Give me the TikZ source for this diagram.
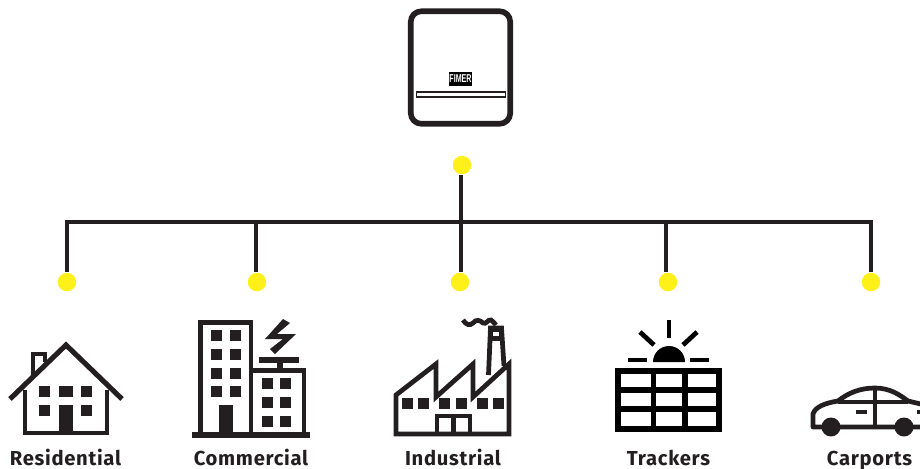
\documentclass[tikz,border=0pt]{standalone}
\usepackage{graphicx}
\usepackage{fontspec}
\setmainfont{Liberation Sans}
\newfontfamily\labelfont[LetterSpace=3.5]{Fira Sans}
\usetikzlibrary{positioning}
\definecolor{FimerInk}{HTML}{231F20}
\definecolor{FimerYellow}{HTML}{FFF01A}

\begin{document}
\begin{tikzpicture}[
            x=0.02cm, y=-0.02cm,
            dot/.style={circle, fill=FimerYellow, inner sep=0pt, minimum size=0.37cm},
            wire/.style={draw=FimerInk, line width=1.8pt},
            icon/.style={draw=FimerInk, line width=2.7pt, miter limit=10},
            thin icon/.style={icon, line width=1.9pt},
            caption/.style={font=\labelfont\bfseries\fontsize{11.5}{13}\selectfont, text=FimerInk, anchor=base, inner sep=0pt}
        ]
            \useasboundingbox (0,0) rectangle (920,468);
            \clip (0,0) rectangle (920,468);

            % inverter
            \node[draw=FimerInk, line width=3.2pt, rounded corners=6pt, minimum width=1.99cm, minimum height=2.25cm, inner sep=0pt] (inverter) at (460.5,67.5) {};
            \node[fill=black, text=white, minimum width=0.46cm, minimum height=0.28cm, inner sep=0pt, font=\bfseries\fontsize{6.5}{7}\selectfont] (logo) at (460.5,79) {\scalebox{.62}[1]{FIMER}};
            \node[draw=FimerInk, fill=white, line width=1pt, minimum width=1.78cm, minimum height=0.11cm, inner sep=0pt] (slot) at (461,94.5) {};

            % connectors
            \node[dot] (dotTop) at (462,165) {};
            \node[dot] (dotRes) at (67,282) {};
            \node[dot] (dotCom) at (257,282) {};
            \node[dot] (dotInd) at (460,282) {};
            \node[dot] (dotTra) at (668,282) {};
            \node[dot] (dotCar) at (871,282) {};
            \coordinate (joinRes) at (67,222);
            \coordinate (joinCom) at (256,222);
            \coordinate (joinInd) at (461,222);
            \coordinate (joinTra) at (666,222);
            \coordinate (joinCar) at (871,222);

            \draw[wire] (joinInd |- dotTop.south) -- (joinInd);
            \draw[wire, line cap=rect] (joinRes) -- (joinCar);
            \foreach \name in {Res,Com,Ind,Tra,Car}
                \draw[wire] (join\name) -- (join\name |- dot\name.north);

            % house
            \draw[thin icon, fill=white] (33,375) -- (33,354) -- (45,354) -- (45,362);
            \draw[icon] (25,390) -- (25,433) -- (107,433) -- (107,390);
            \draw[icon, line width=2.9pt] (10,399) -- (66,345) -- (122,399);
            \foreach \x/\y/\w in {39/386/11, 59/386/14, 81/386/11, 39/405/11, 81/405/11}
                \fill[FimerInk] (\x,\y) rectangle ++(\w,11);
            \fill[FimerInk] (59,405) rectangle (73,433);

            % commercial
            \draw[icon] (200.5,434) -- (200.5,322.5) -- (251,322.5) -- (251,434);
            \draw[icon] (251,370.5) -- (304,370.5) -- (304,434);
            \fill[FimerInk] (192,432) rectangle (310,438);
            \foreach \y in {330,349,368,386}
                \foreach \x in {211,230}
                    \fill[FimerInk] (\x,\y) rectangle ++(11,11);
            \fill[FimerInk] (219,405) rectangle (233,433);
            \foreach \y in {378,397,416}
                \foreach \x in {262,280}
                    \fill[FimerInk] (\x,\y) rectangle ++(11,11);
            \fill[FimerInk] (259,357) rectangle (299,363);
            \fill[FimerInk] (277,363) rectangle (283,370);
            \fill[FimerInk] (283,319) -- (290,323) -- (277,334) -- (296,334) -- (275,354) -- (270,349) -- (283,339) -- (265,339) -- cycle;

            % factory
            \draw[icon] (488.5,375) -- (490.5,328) -- (501.5,328) -- (504,366);
            \fill[FimerInk] (489,326) rectangle (503,341);
            \fill[white] (493,332) rectangle (499,336);
            \draw[icon] (463,320) .. controls (466,325) and (470,326) .. (473,323) .. controls (476,319) and (480,320) .. (483,323) .. controls (486,325) and (488,319) .. (491,320) .. controls (493,321) and (494,323) .. (496,325);
            \draw[icon] (396,434) -- (396,395) -- (436,364) -- (436,397) -- (473,364) -- (473,397) -- (509,364) -- (509,434) -- cycle;
            \foreach \x in {402,418,439,456,477,493}
                \fill[FimerInk] (\x,398) rectangle ++(11,11);
            \draw[thin icon, line width=2.3pt] (437,434) -- (437,416) -- (470,416) -- (470,434);
            \draw[thin icon, line width=2.3pt] (453.5,416) -- (453.5,434);

            % tracker
            \draw[icon, draw=black, line width=3pt] (618,371) rectangle (719,429);
            \draw[icon, draw=black, line width=3pt] (653.5,371) -- (653.5,429);
            \draw[icon, draw=black, line width=3pt] (685,371) -- (685,429);
            \draw[icon, draw=black, line width=3pt] (618,390) -- (719,390);
            \draw[icon, draw=black, line width=3pt] (618,409) -- (719,409);
            \fill[black] (653,362) arc[start angle=180, end angle=360, radius=16] -- cycle;
            \draw[icon, draw=black] (669,320) -- (669,338);
            \draw[icon, draw=black] (640,332) -- (654,345);
            \draw[icon, draw=black] (697,332) -- (683,345);
            \draw[icon, draw=black] (628,360) -- (647,360);
            \draw[icon, draw=black] (690,360) -- (709,360);

            % car
            \draw[icon, line join=round] (925,427) -- (813,427) -- (813,414) .. controls (815,407) and (825,403) .. (838,401) .. controls (848,393) and (860,388) .. (875,388) .. controls (890,388) and (900,395) .. (908,401) -- (925,405);
            \draw[icon] (838,402) -- (908,402);
            \draw[icon] (875,388) -- (875,427);
            \fill[FimerInk] (831,427) circle[radius=9.5];
            \fill[FimerInk] (904,427) circle[radius=9.5];
            \fill[FimerInk] (856,410) rectangle (867,414);
            \fill[FimerInk] (917,410) rectangle (922,414);

            % labels
            \node[caption] (capRes) at (65.5,465) {Residential};
            \node[caption] (capCom) at (251,465) {Commercial};
            \node[caption] (capInd) at (453,465) {Industrial};
            \node[caption] (capTra) at (668.5,465) {Trackers};
            \node[caption] (capCar) at (869.5,465) {Carports};
        \end{tikzpicture}
\end{document}
